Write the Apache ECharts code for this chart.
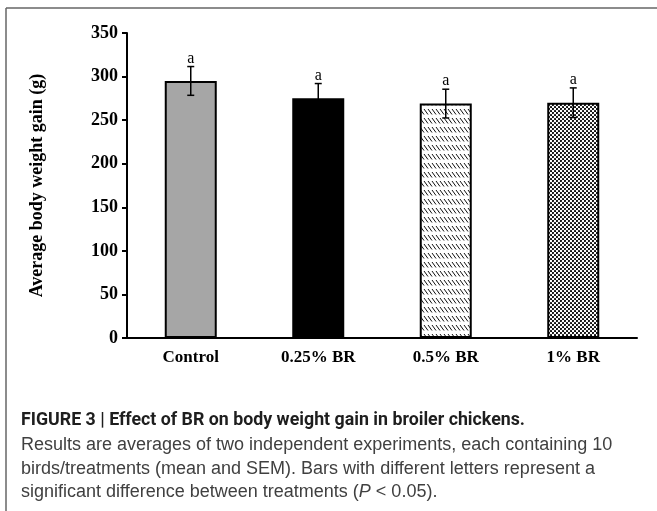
<!DOCTYPE html>
<html>
<head>
<meta charset="utf-8">
<script src="https://cdn.jsdelivr.net/npm/echarts@6/dist/echarts.min.js"></script>
<style>
  html, body { margin: 0; padding: 0; background: #fff; }
  #chart { width: 657px; height: 511px; }
</style>
</head>
<body>
<div id="chart"></div>
<script>
// Treatment groups, mean body weight gain (g), SEM and significance letters
const categories = ['Control', '0.25% BR', '0.5% BR', '1% BR'];
const meanGain = [295, 275, 269, 270];
const semGain = [16.5, 17, 16.5, 17];
const sigLetters = ['a', 'a', 'a', 'a'];
const yTicks = { min: 0, max: 350, interval: 50 };

// Fill textures for the two BR treatment bars
function hatchTexture() {
  const c = document.createElement('canvas');
  c.width = 4; c.height = 9;
  const g = c.getContext('2d');
  g.fillStyle = '#fff';
  g.fillRect(0, 0, 4, 9);
  g.strokeStyle = '#111';
  g.lineWidth = 1;
  for (const dx of [-4, 0, 4]) {
    g.beginPath();
    g.moveTo(dx + 0, 1);
    g.lineTo(dx + 4, 6.5);
    g.stroke();
  }
  return c;
}
function dotTexture() {
  const c = document.createElement('canvas');
  c.width = 4; c.height = 4;
  const g = c.getContext('2d');
  g.fillStyle = '#fff';
  g.fillRect(0, 0, 4, 4);
  g.fillStyle = '#000';
  const centres = [[1, 1], [3, 3], [-1, 3], [3, -1], [5, 3], [3, 5], [-1, -1], [5, 5], [1, 5], [5, 1], [-1, 1], [1, -1]];
  for (const [cx, cy] of centres) {
    g.beginPath();
    g.arc(cx, cy, 1.05, 0, Math.PI * 2);
    g.fill();
  }
  return c;
}

const barFills = [
  '#a6a6a6',
  '#000000',
  { image: hatchTexture(), repeat: 'repeat' },
  { image: dotTexture(), repeat: 'repeat' }
];

const serif = '"Liberation Serif", "Times New Roman", serif';
const sans = '"Liberation Sans", Arial, sans-serif';

const chart = echarts.init(document.getElementById('chart'), null, { renderer: 'canvas' });

chart.setOption({
  backgroundColor: '#fff',
  animation: false,
  grid: { left: 127, right: 20, top: 33, bottom: 173 },
  xAxis: {
    type: 'category',
    data: categories,
    axisLine: { lineStyle: { color: '#000', width: 2 } },
    axisTick: { show: false },
    axisLabel: {
      margin: 11,
      color: '#000',
      fontFamily: serif,
      fontWeight: 'bold',
      fontSize: 17
    }
  },
  yAxis: {
    type: 'value',
    min: yTicks.min,
    max: yTicks.max,
    interval: yTicks.interval,
    name: 'Average body weight gain (g)',
    nameLocation: 'middle',
    nameGap: 81,
    nameTextStyle: {
      color: '#000',
      fontFamily: serif,
      fontWeight: 'bold',
      fontSize: 18
    },
    axisLine: { show: true, lineStyle: { color: '#000', width: 2 } },
    axisTick: { show: true, length: 5, lineStyle: { color: '#000', width: 2 } },
    splitLine: { show: false },
    axisLabel: {
      margin: 9,
      color: '#000',
      fontFamily: serif,
      fontWeight: 'bold',
      fontSize: 18
    }
  },
  series: [
    {
      type: 'bar',
      barWidth: 52,
      data: meanGain.map((v, i) => ({
        value: v,
        itemStyle: { color: barFills[i], borderColor: '#000', borderWidth: 2 }
      }))
    },
    {
      type: 'custom',
      z: 5,
      data: meanGain.map((v, i) => [i, v, semGain[i]]),
      renderItem: function (params, api) {
        const idx = api.value(0);
        const m = api.value(1);
        const s = api.value(2);
        const x = api.coord([idx, m])[0];
        const yHi = api.coord([idx, m + s])[1];
        const yLo = api.coord([idx, m - s])[1];
        const cap = 3.5;
        const ls = { stroke: '#000', lineWidth: 1.5 };
        return {
          type: 'group',
          children: [
            { type: 'line', shape: { x1: x, y1: yHi, x2: x, y2: yLo }, style: ls },
            { type: 'line', shape: { x1: x - cap, y1: yHi, x2: x + cap, y2: yHi }, style: ls },
            { type: 'line', shape: { x1: x - cap, y1: yLo, x2: x + cap, y2: yLo }, style: ls },
            {
              type: 'text',
              style: {
                text: sigLetters[params.dataIndex],
                x: x,
                y: yHi - 8,
                align: 'center',
                verticalAlign: 'middle',
                fill: '#000',
                font: '16px ' + serif
              }
            }
          ]
        };
      }
    }
  ],
  graphic: [
    // page frame
    { type: 'line', shape: { x1: 6, y1: 8, x2: 657, y2: 8 }, style: { stroke: '#666', lineWidth: 1.5 } },
    { type: 'line', shape: { x1: 6, y1: 8, x2: 6, y2: 511 }, style: { stroke: '#666', lineWidth: 1.5 } },
    // figure caption
    {
      type: 'text',
      style: {
        x: 21, y: 421, verticalAlign: 'middle',
        text: 'FIGURE 3 | Effect of BR on body weight gain in broiler chickens.',
        font: 'bold 17.8px Roboto, ' + sans,
        fill: '#1e1e1e'
      }
    },
    {
      type: 'text',
      style: {
        x: 21, y: 445, verticalAlign: 'middle',
        text: 'Results are averages of two independent experiments, each containing 10',
        font: '18px ' + sans,
        fill: '#404040'
      }
    },
    {
      type: 'text',
      style: {
        x: 21, y: 469, verticalAlign: 'middle',
        text: 'birds/treatments (mean and SEM). Bars with different letters represent a',
        font: '18px ' + sans,
        fill: '#404040'
      }
    },
    {
      type: 'text',
      style: {
        x: 21, y: 492, verticalAlign: 'middle',
        text: 'significant difference between treatments ({i|P} < 0.05).',
        font: '18px ' + sans,
        fill: '#404040',
        rich: { i: { fontStyle: 'italic', fontSize: 18, fontFamily: sans, fill: '#404040' } }
      }
    }
  ]
});
</script>
</body>
</html>
